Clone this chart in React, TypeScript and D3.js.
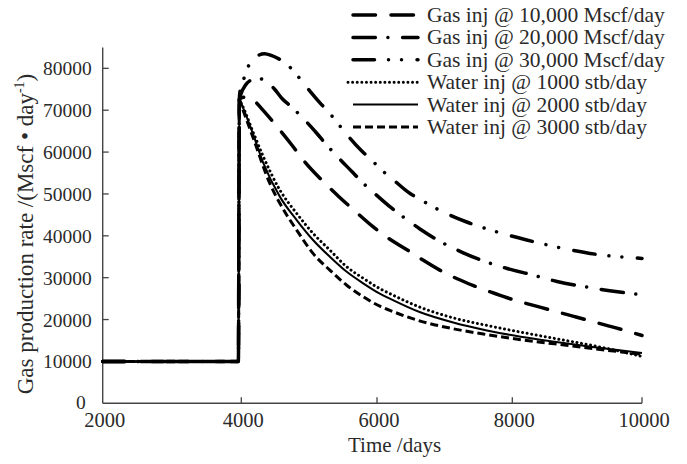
import React from "react";
import * as d3 from "d3";

// Axis ticks
const xTickValues = [2000, 4000, 6000, 8000, 10000];
const yTickValues = [0, 10000, 20000, 30000, 40000, 50000, 60000, 70000, 80000];

// Series labels (legend order)
const seriesLabels = [
  "Gas inj @ 10,000 Mscf/day",
  "Gas inj @ 20,000 Mscf/day",
  "Gas inj @ 30,000 Mscf/day",
  "Water inj @ 1000 stb/day",
  "Water inj @ 2000 stb/day",
  "Water inj @ 3000 stb/day",
];

// Primary depletion before injection starts (shared by all cases): [day, Mscf/day]
const primaryPhase: [number, number][] = [
  [2000, 10000],
  [3958, 10000],
  [3972, 72500],
];

const gas10000: [number, number][] = [
  [3994, 72900], [4093, 73200], [4193, 72200], [4342, 69600], [4540, 65800],
  [4739, 61800], [4938, 57600], [5186, 53300], [5435, 49400], [5683, 45800],
  [5931, 42300], [6180, 39300], [6430, 36800], [6679, 34200], [6928, 31800],
  [7177, 29800], [7426, 28100], [7675, 26600], [7924, 25200], [8181, 24000],
  [8441, 22900], [8701, 21800], [8961, 20700], [9221, 19600], [9480, 18500],
  [9740, 17400], [10000, 16200],
];

const gas20000: [number, number][] = [
  [3994, 73800], [4063, 76000], [4143, 77200], [4242, 77600], [4362, 77000],
  [4491, 75000], [4600, 72800], [4739, 70800], [4938, 67600], [5112, 64500],
  [5236, 62100], [5435, 58600], [5633, 55300], [5782, 52800], [5931, 50600],
  [6180, 47100], [6330, 45200], [6629, 41700], [6928, 38700], [7267, 36000],
  [7575, 34000], [7924, 32200], [8327, 30600], [8690, 29100], [9096, 27900],
  [9501, 26900], [10000, 25900],
];

const gas30000: [number, number][] = [
  [3984, 74800], [4024, 76800], [4078, 79600], [4143, 81500], [4242, 83000],
  [4342, 83500], [4441, 83100], [4560, 82200], [4670, 81000], [4809, 78600],
  [4918, 76400], [5156, 71800], [5285, 69600], [5405, 67200], [5534, 64600],
  [5772, 60300], [5921, 58100], [6041, 56100], [6190, 54100], [6489, 50100],
  [6639, 48700], [6808, 47100], [6978, 45700], [7326, 43300], [7865, 40500],
  [8222, 39000], [8784, 37000], [9200, 35800], [10000, 34600],
];

const water1000: [number, number][] = [
  [4004, 71500], [4173, 64800], [4322, 59000], [4570, 50900], [4819, 45300],
  [5057, 40600], [5305, 36600], [5554, 32600], [5802, 29800], [6041, 27400],
  [6190, 26200], [6629, 23000], [7127, 20400], [7625, 18600], [8129, 17000],
  [8649, 15500], [9272, 13700], [10000, 11200],
];

const water2000: [number, number][] = [
  [4004, 71400], [4173, 64300], [4322, 57500], [4570, 49300], [4819, 43700],
  [5057, 39000], [5305, 35000], [5554, 31400], [5802, 28600], [6041, 26200],
  [6190, 25000], [6629, 21800], [7127, 19300], [7625, 17400], [8129, 15900],
  [8649, 14700], [9272, 13400], [10000, 12000],
];

const water3000: [number, number][] = [
  [4004, 71000], [4173, 63500], [4421, 52500], [4570, 47700], [4819, 41300],
  [5057, 35800], [5305, 31800], [5554, 28200], [5802, 25400], [6041, 23200],
  [6190, 22200], [6629, 19700], [7127, 17800], [7625, 16400], [8129, 15200],
  [8649, 14200], [9272, 13000], [10000, 11700],
];

const seriesData = [gas10000, gas20000, gas30000, water1000, water2000, water3000];

// Stroke styles per series
const seriesStyles = [
  { width: 3.5, dash: "22.5 15.5", cap: "round" },
  { width: 3.5, dash: "22.4 12.5 0.01 14.7", cap: "round" },
  { width: 3.5, dash: "21.5 14 0.01 13 0.01 15.5", cap: "round" },
  { width: 3, dash: "0.01 4.6", cap: "round" },
  { width: 2, dash: "none", cap: "butt" },
  { width: 3, dash: "8 4", cap: "butt" },
];

const W = 687;
const H = 464;
const FONT = "'Liberation Serif', 'Times New Roman', serif";
const TEXT = "#2a2a2a";
const AXIS = "#444";

export default function App() {
  // piecewise-linear time axis, one segment per tick interval
  const x = d3
    .scaleLinear()
    .domain([2000, 4000, 6000, 8000, 10000])
    .range([102.7, 241.3, 377, 512.3, 642]);
  const y = d3.scaleLinear().domain([0, 85000]).range([403.3, 47.4]);

  const line = d3
    .line<[number, number]>()
    .x((d) => x(d[0]))
    .y((d) => y(d[1]))
    .curve(d3.curveMonotoneX);

  const x0 = x(2000);
  const x1 = x(10000);
  const y0 = y.range()[0];
  const legendX0 = 353;
  const legendX1 = 418;
  const legendRowY = (i: number) => 15 + i * 22.4;

  return (
    <svg
      width={W}
      height={H}
      viewBox={`0 0 ${W} ${H}`}
      style={{ position: "absolute", left: 0, top: 0, background: "#fff" }}
      fontFamily={FONT}
    >
      <rect x={0} y={0} width={W} height={H} fill="#fff" />

      {/* axes */}
      <line x1={x0} y1={y.range()[1]} x2={x0} y2={y0} stroke={AXIS} strokeWidth={1.4} />
      <line x1={x0} y1={y0} x2={x1} y2={y0} stroke={AXIS} strokeWidth={1.4} />

      {/* y ticks (inward) */}
      {yTickValues.map((v) => (
        <g key={`yt${v}`}>
          {v > 0 && (
            <line x1={x0} x2={x0 + 6} y1={y(v)} y2={y(v)} stroke={AXIS} strokeWidth={1.3} />
          )}
          {v > 0 ? (
            <text x={x0 - 11} y={y(v) + 7} textAnchor="end" fontSize={19.5} fill={TEXT}>
              {v}
            </text>
          ) : (
            <text x={x0 - 17} y={y(v) + 6} textAnchor="end" fontSize={19.5} fill={TEXT}>
              {v}
            </text>
          )}
        </g>
      ))}

      {/* x ticks (inward) */}
      {xTickValues.map((v) => (
        <g key={`xt${v}`}>
          {v > 2000 && (
            <line x1={x(v)} x2={x(v)} y1={y0} y2={y0 - 6} stroke={AXIS} strokeWidth={1.3} />
          )}
          <text x={x(v) + 2} y={y0 + 24} textAnchor="middle" fontSize={20.5} fill={TEXT}>
            {v}
          </text>
        </g>
      ))}

      {/* axis titles */}
      <text x={348} y={452} fontSize={21} fill={TEXT}>
        Time /days
      </text>
      <text
        transform={`translate(33,${234}) rotate(-90)`}
        textAnchor="middle"
        fontSize={23}
        fill={TEXT}
      >
        Gas production rate /(Mscf • day
        <tspan fontSize={14} dy={-9}>-1</tspan>
        <tspan dy={9}>)</tspan>
      </text>

      {/* curves */}
      {seriesData.map((pts, i) => {
        const s = seriesStyles[i];
        return (
          <path
            key={`s${i}`}
            d={line([...primaryPhase, ...pts]) || ""}
            fill="none"
            stroke="#000"
            strokeWidth={s.width}
            strokeDasharray={s.dash}
            strokeLinecap={s.cap as any}
            strokeLinejoin="round"
          />
        );
      })}

      {/* legend */}
      {seriesLabels.map((label, i) => {
        const s = seriesStyles[i];
        const ly = legendRowY(i);
        return (
          <g key={`lg${i}`}>
            <line
              x1={i === 3 ? legendX0 - 5 : legendX0}
              x2={legendX1}
              y1={ly}
              y2={ly}
              stroke="#000"
              strokeWidth={s.width}
              strokeDasharray={s.dash}
              strokeLinecap={s.cap as any}
            />
            <text x={427} y={ly + 7} fontSize={21.5} fill={TEXT}>
              {label}
            </text>
          </g>
        );
      })}
    </svg>
  );
}
